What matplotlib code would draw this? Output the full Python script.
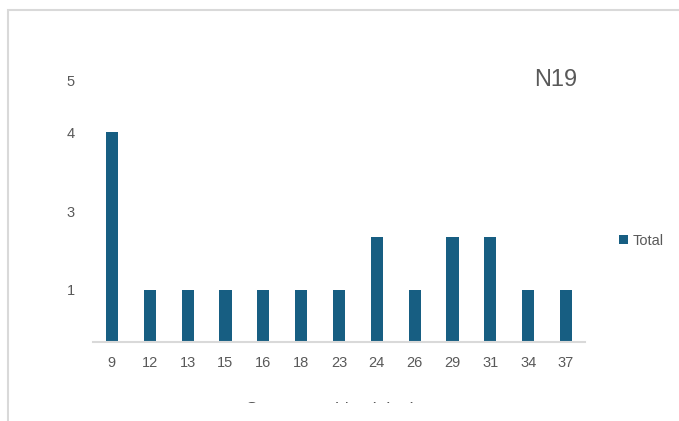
import matplotlib
matplotlib.use("Agg")
import matplotlib.pyplot as plt
from matplotlib.patches import Rectangle

# === DATA ===
weeks = ["9", "12", "13", "15", "16", "18", "23", "24", "26", "29", "31", "34", "37"]
totals = [4, 1, 1, 1, 1, 1, 1, 2, 1, 2, 2, 1, 1]
# y labels as they sit in the reference (the "3" label sits at half way)
ytick_pos = [1, 2.5, 4, 5]
ytick_labels = ["1", "3", "4", "5"]

BAR_COLOR = "#175e82"
TEXT_COLOR = "#595959"
GRID_GRAY = "#d9d9d9"

plt.rcParams["font.family"] = ["Liberation Sans", "DejaVu Sans"]

fig = plt.figure(figsize=(6.79, 4.21), dpi=100)
W, H = 679, 421

# outer chart frame
fig.patches.append(Rectangle((8 / W, -0.1), 1.0, (H - 10) / H + 0.1,
                             transform=fig.transFigure, fill=False,
                             edgecolor=GRID_GRAY, linewidth=1.5))

ax = fig.add_axes([93 / W, (H - 342) / H, 492 / W, 262 / H])
x = list(range(len(weeks)))
ax.bar(x, totals, width=0.32, color=BAR_COLOR, label="Total")
ax.set_xlim(-0.5, len(weeks) - 0.5)
ax.set_ylim(0, 5)

ax.set_xticks(x)
ax.set_xticklabels(weeks, fontsize=10.5, color=TEXT_COLOR)
ax.set_yticks(ytick_pos)
ax.set_yticklabels(ytick_labels, fontsize=10.5, color=TEXT_COLOR)
ax.tick_params(axis="both", length=0)
ax.tick_params(axis="x", pad=10)
ax.tick_params(axis="y", pad=13)

for side in ["top", "right", "left"]:
    ax.spines[side].set_visible(False)
ax.spines["bottom"].set_color(GRID_GRAY)
ax.spines["bottom"].set_linewidth(1.5)

ax.set_xlabel("Semana epidemiologica", fontsize=12.5, color=TEXT_COLOR, labelpad=23)

fig.text(556 / W, 1 - 80 / H, "N19", fontsize=17, color=TEXT_COLOR,
         ha="center", va="center", fontweight="medium")

leg = fig.legend(loc="center left", bbox_to_anchor=(606 / W, 1 - 241 / H),
                 frameon=False, fontsize=10.5, handlelength=0.6, handleheight=0.6,
                 handletextpad=0.3, labelcolor=TEXT_COLOR)

# the axis title is cut off at the bottom in the reference
fig.patches.append(Rectangle((9 / W, 0), 1.0, (H - 403) / H,
                             transform=fig.transFigure, facecolor="white",
                             edgecolor="none", zorder=10))

fig.savefig("out.png", dpi=100)
